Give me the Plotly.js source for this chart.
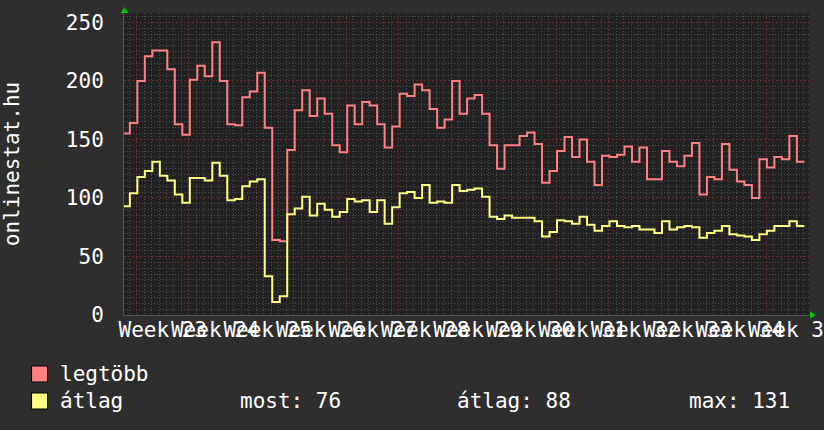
<!DOCTYPE html>
<html>
<head>
<meta charset="utf-8">
<script src="https://cdn.plot.ly/plotly-3.0.1.min.js"></script>
<style>
  html, body { margin: 0; padding: 0; background: #2e2e2e; }
  #chart { width: 824px; height: 430px; }
</style>
</head>
<body>
<div id="chart"></div>
<script>
// daily values, one per day, oldest first
var legtobb = [155, 164, 200, 221, 226, 226, 210, 163, 154, 201, 213, 204, 233, 200, 163, 162,
  186, 191, 207, 160, 64, 63, 141, 175, 192, 170, 185, 172, 145, 139, 179, 163, 182, 179, 163,
  143, 161, 189, 187, 197, 192, 176, 160, 167, 200, 172, 185, 188, 172, 145, 125, 145, 145, 153,
  156, 146, 113, 123, 140, 152, 135, 150, 131, 111, 136, 135, 137, 144, 131, 143, 116, 116, 140,
  131, 127, 136, 147, 103, 118, 116, 146, 124, 114, 111, 100, 133, 126, 135, 133, 153, 131];
var atlag = [93, 104, 118, 123, 131, 119, 115, 103, 96, 117, 117, 115, 130, 119, 98, 99,
  110, 114, 116, 33, 11, 16, 86, 91, 101, 85, 95, 90, 84, 88, 99, 97, 98, 88, 98,
  78, 92, 104, 105, 100, 111, 96, 97, 96, 111, 106, 107, 108, 101, 84, 82, 85, 83, 83,
  83, 80, 67, 71, 81, 80, 78, 84, 77, 72, 76, 80, 76, 75, 76, 73, 73, 70, 80,
  73, 75, 76, 75, 66, 70, 72, 76, 69, 68, 67, 64, 69, 72, 76, 76, 80, 76];
var weekLabels = ['Week 23', 'Week 24', 'Week 25', 'Week 26', 'Week 27', 'Week 28', 'Week 29',
  'Week 30', 'Week 31', 'Week 32', 'Week 33', 'Week 34', 'Week 35'];
var seriesNames = ['legtöbb', 'átlag'];
var statTexts = ['most: 76', 'átlag: 88', 'max: 131'];
var yTitle = 'onlinestat.hu';

var RED = '#ff8080', YEL = '#ffff80';
var FONT = 'DejaVu Sans Mono, monospace';

// first week boundary inside the plot (in days) and label offset
var weekStart = 1.89;
var labelPos = weekLabels.map(function (_, i) { return weekStart + 3.5 + 7 * i; });

function steps(vals) {
  var x = vals.map(function (_, i) { return i; });
  x.push(vals.length);
  var y = vals.slice();
  y.push(vals[vals.length - 1]);
  return { x: x, y: y };
}

var r = steps(legtobb), a = steps(atlag);
var xRange = [0.22, 91.62];

var data = [
  { type: 'scatter', mode: 'lines', x: r.x, y: r.y, name: seriesNames[0],
    line: { shape: 'hv', color: RED, width: 2 }, xaxis: 'x', yaxis: 'y', hoverinfo: 'skip' },
  { type: 'scatter', mode: 'lines', x: a.x, y: a.y, name: seriesNames[1],
    line: { shape: 'hv', color: YEL, width: 2 }, xaxis: 'x2', yaxis: 'y', hoverinfo: 'skip' }
];

// plot area in pixels
var L = 123.5, R = 809, T = 13, B = 315, W = 824, H = 430;
function px(v) { return (v - L) / (R - L); }
function py(v) { return (B - v) / (B - T); }

var annotations = [
  { text: seriesNames[0], x: px(57), y: py(374) },
  { text: seriesNames[1], x: px(57), y: py(401) },
  { text: statTexts[0], x: px(238), y: py(401) },
  { text: statTexts[1], x: px(455), y: py(401) },
  { text: statTexts[2], x: px(687), y: py(401) }
].map(function (o) {
  return { text: o.text, x: o.x, y: o.y, xref: 'paper', yref: 'paper', xanchor: 'left',
    yanchor: 'middle', showarrow: false, font: { family: FONT, size: 21, color: '#ffffff' } };
});

var shapes = [
  { type: 'rect', xref: 'paper', yref: 'paper', x0: px(31), x1: px(47), y0: py(382), y1: py(366),
    fillcolor: RED, line: { color: '#000000', width: 1 } },
  { type: 'rect', xref: 'paper', yref: 'paper', x0: px(31), x1: px(47), y0: py(409), y1: py(393),
    fillcolor: YEL, line: { color: '#000000', width: 1 } },
  { type: 'path', xref: 'paper', yref: 'paper', fillcolor: '#00cc00', line: { width: 0 },
    path: 'M ' + px(120.5) + ' ' + py(13) + ' L ' + px(127.5) + ' ' + py(13) + ' L ' + px(124) + ' ' + py(7) + ' Z' },
  { type: 'path', xref: 'paper', yref: 'paper', fillcolor: '#00cc00', line: { width: 0 },
    path: 'M ' + px(810) + ' ' + py(311.5) + ' L ' + px(810) + ' ' + py(318.5) + ' L ' + px(816) + ' ' + py(315) + ' Z' }
];

var layout = {
  width: W, height: H,
  margin: { l: L, r: W - R, t: T, b: H - B, pad: 0 },
  paper_bgcolor: '#2e2e2e',
  plot_bgcolor: '#212121',
  showlegend: false,
  font: { family: FONT, size: 21, color: '#ffffff' },
  xaxis: {
    range: xRange, tick0: weekStart, dtick: 7, showticklabels: false, ticks: '',
    showgrid: true, gridcolor: '#6a2e2e', griddash: '2px,2px', gridwidth: 1,
    minor: { tick0: weekStart, dtick: 1, showgrid: true, gridcolor: '#4e4e4e', griddash: '1px,2px', gridwidth: 1 },
    zeroline: false, showline: true, linecolor: '#555555', linewidth: 1
  },
  xaxis2: {
    range: xRange, overlaying: 'x', anchor: 'y', side: 'bottom',
    tickmode: 'array', tickvals: labelPos, ticktext: weekLabels, tickangle: 0,
    ticklabeloverflow: 'allow',
    showgrid: false, zeroline: false, ticks: '',
    tickfont: { family: FONT, size: 21, color: '#ffffff' }
  },
  yaxis: {
    range: [0, 258], tick0: 0, dtick: 50, ticks: '', ticklabelstandoff: 15,
    showgrid: true, gridcolor: '#6a2e2e', griddash: '2px,2px', gridwidth: 1,
    minor: { dtick: 5, showgrid: true, gridcolor: '#4e4e4e', griddash: '1px,2px', gridwidth: 1 },
    zeroline: false, showline: true, linecolor: '#555555', linewidth: 1,
    tickfont: { family: FONT, size: 21, color: '#ffffff' },
    title: { text: yTitle, standoff: 44, font: { family: FONT, size: 21, color: '#ffffff' } }
  },
  annotations: annotations,
  shapes: shapes
};

Plotly.newPlot('chart', data, layout, { displayModeBar: false, staticPlot: true });
</script>
</body>
</html>
